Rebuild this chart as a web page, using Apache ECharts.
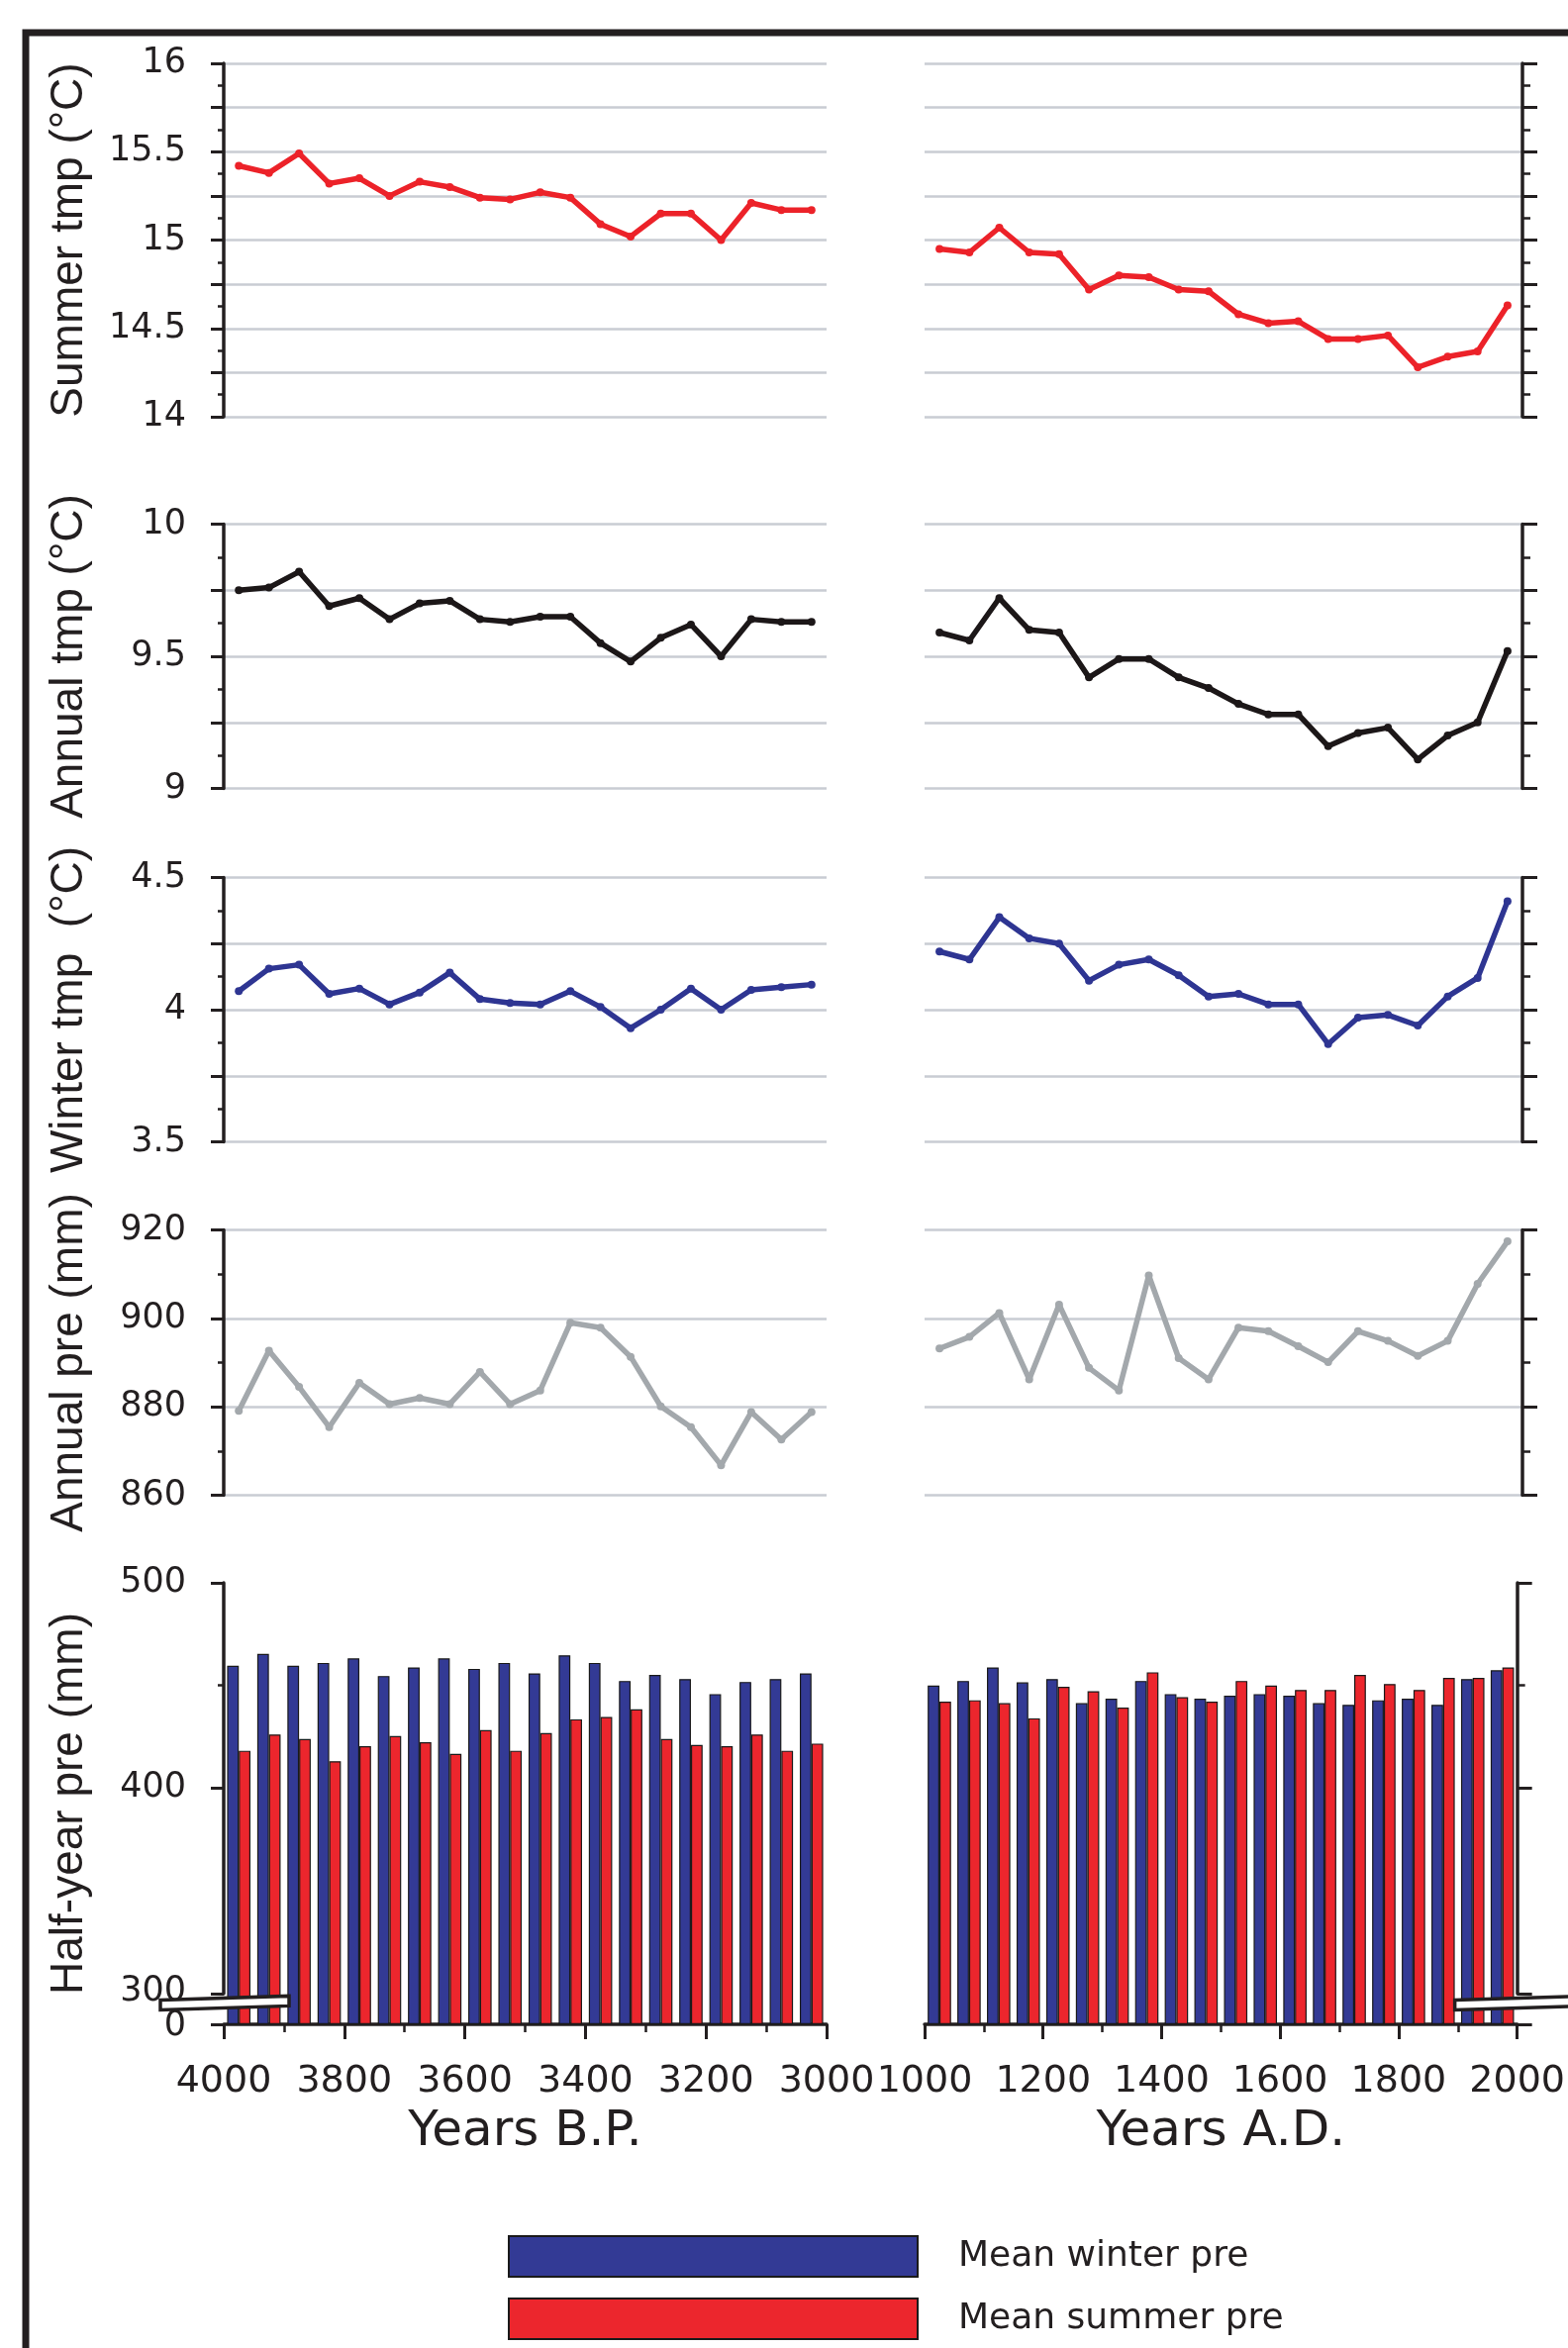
<!DOCTYPE html>
<html>
<head>
<meta charset="utf-8">
<script src="https://cdn.jsdelivr.net/npm/echarts@6/dist/echarts.min.js"></script>
<style>
html,body{margin:0;padding:0;background:#fff;}
#chart{width:1584px;height:2372px;}
</style>
</head>
<body>
<div id="chart"></div>
<script>
// ---------------- DATA ----------------
const yearsBP = [3975,3925,3875,3825,3775,3725,3675,3625,3575,3525,3475,3425,3375,3325,3275,3225,3175,3125,3075,3025];
const yearsAD = [1025,1075,1125,1175,1225,1275,1325,1375,1425,1475,1525,1575,1625,1675,1725,1775,1825,1875,1925,1975];

const summerTmpBP = [15.42,15.38,15.49,15.32,15.35,15.25,15.33,15.30,15.24,15.23,15.27,15.24,15.09,15.02,15.15,15.15,15.00,15.21,15.17,15.17];
const summerTmpAD = [14.95,14.93,15.07,14.93,14.92,14.72,14.80,14.79,14.72,14.71,14.58,14.53,14.54,14.44,14.44,14.46,14.28,14.34,14.37,14.63];

const annualTmpBP = [9.75,9.76,9.82,9.69,9.72,9.64,9.70,9.71,9.64,9.63,9.65,9.65,9.55,9.48,9.57,9.62,9.50,9.64,9.63,9.63];
const annualTmpAD = [9.59,9.56,9.72,9.60,9.59,9.42,9.49,9.49,9.42,9.38,9.32,9.28,9.28,9.16,9.21,9.23,9.11,9.20,9.25,9.52];

const winterTmpBP = [4.07,4.155,4.17,4.06,4.08,4.02,4.065,4.14,4.04,4.025,4.02,4.07,4.01,3.93,4.00,4.08,4.00,4.075,4.085,4.095];
const winterTmpAD = [4.22,4.19,4.35,4.27,4.25,4.11,4.17,4.19,4.13,4.05,4.06,4.02,4.02,3.87,3.97,3.98,3.94,4.05,4.12,4.41];

const annualPreBP = [879.1,892.7,884.5,875.4,885.4,880.6,882.0,880.6,887.9,880.6,883.7,899.0,897.9,891.3,880.1,875.4,866.8,878.8,872.6,878.8];
const annualPreAD = [893.2,895.8,901.2,886.2,903.1,888.8,883.7,909.7,891.0,886.2,897.9,897.1,893.7,890.1,897.1,894.9,891.5,894.9,907.8,917.4];

const winterPreBP = [459.6,465.4,459.6,461.0,463.2,454.6,458.8,463.2,458.1,461.0,455.9,464.7,461.0,452.2,455.1,453.1,445.8,451.7,453.1,455.9];
const summerPreBP = [418.2,426.1,423.9,413.1,420.4,425.4,422.4,416.7,428.3,418.2,426.8,433.5,434.7,438.4,423.9,421.0,420.4,426.1,418.2,421.7];
const winterPreAD = [450.0,452.2,458.8,451.5,453.1,441.4,443.6,452.2,445.8,443.6,445.0,445.8,445.0,441.4,440.6,442.8,443.6,440.6,453.1,457.4];
const summerPreAD = [442.1,442.8,441.4,434.0,449.4,447.2,439.2,456.4,444.3,442.1,452.2,450.0,447.8,447.8,455.1,450.7,447.8,453.7,453.7,458.8];

// tick labels
const summerTicks = [14, 14.5, 15, 15.5, 16];
const annualTicks = [9, 9.5, 10];
const winterTicks = [3.5, 4, 4.5];
const preTicks = [860, 880, 900, 920];
const halfTicks = [0, 300, 400, 500];
const bpTicks = [4000, 3800, 3600, 3400, 3200, 3000];
const adTicks = [1000, 1200, 1400, 1600, 1800, 2000];

const axisNames = ['Summer tmp (°C)', 'Annual tmp (°C)', 'Winter tmp  (°C)', 'Annual pre (mm)', 'Half-year pre (mm)'];
const legendNames = ['Mean winter pre', 'Mean summer pre'];

// ---------------- STYLE / LAYOUT ----------------
const FONT = 'DejaVu Sans';
const NAMEFONT = 'Liberation Sans';
const INK = '#231f20';
const GRIDC = '#c9ccd3';
const colLeft = [226, 934];
const colWidth = [609, 604];
const rowTop = [64, 529.5, 886.5, 1242.5, 1599];
const rowHeight = [357, 267, 267, 268, 446];

const yCfg = [
  {min: 14, max: 16, interval: 0.25, labels: summerTicks},
  {min: 9, max: 10, interval: 0.25, labels: annualTicks},
  {min: 3.5, max: 4.5, interval: 0.25, labels: winterTicks},
  {min: 860, max: 920, interval: 20, labels: preTicks},
  {min: 0, max: 500, interval: 100, labels: halfTicks}
];

const lineSets = [
  [summerTmpBP, summerTmpAD, '#ec2229'],
  [annualTmpBP, annualTmpAD, '#1c1718'],
  [winterTmpBP, winterTmpAD, '#2e3592'],
  [annualPreBP, annualPreAD, '#a3a8ac']
];

const grids = [], xAxes = [], yAxes = [], series = [];
for (let r = 0; r < 5; r++) {
  for (let c = 0; c < 2; c++) {
    const idx = r * 2 + c;
    grids.push({left: colLeft[c], top: rowTop[r], width: colWidth[c], height: rowHeight[r], containLabel: false});
    const isBottom = r === 4;
    xAxes.push({
      type: 'value', gridIndex: idx,
      min: c === 0 ? 3000 : 1000, max: c === 0 ? 4000 : 2000,
      inverse: c === 0, interval: 200,
      show: isBottom,
      name: c === 0 ? 'Years B.P.' : 'Years A.D.',
      nameLocation: 'middle', nameGap: 84,
      nameTextStyle: {fontFamily: FONT, fontSize: 50, color: INK},
      axisLine: {show: true, lineStyle: {color: INK, width: 3.5}},
      axisTick: {show: true, length: 15, lineStyle: {color: INK, width: 3}},
      minorTick: {show: true, splitNumber: 2, length: 8, lineStyle: {color: INK, width: 2.5}},
      axisLabel: {show: true, fontFamily: FONT, fontSize: 38, color: INK, margin: 39,
                  customValues: c === 0 ? bpTicks : adTicks,
                  hideOverlap: false,
                  formatter: v => String(v)},
      splitLine: {show: false}
    });
    const cfg = yCfg[r];
    const y = {
      type: 'value', gridIndex: idx,
      min: cfg.min, max: cfg.max, interval: cfg.interval,
      position: c === 0 ? 'left' : 'right',
      axisLine: {show: true, lineStyle: {color: INK, width: 3.5}},
      axisTick: {show: true, length: c === 0 ? 13 : 15, lineStyle: {color: INK, width: 3}},
      minorTick: {show: true, splitNumber: 2, length: c === 0 ? 6 : 8, lineStyle: {color: INK, width: 2.5}},
      axisLabel: {show: c === 0, fontFamily: FONT, fontSize: 35, lineHeight: 26, color: INK, margin: 38,
                  hideOverlap: false, showMinLabel: true, showMaxLabel: true,
                  formatter: v => String(v)},
      splitLine: {show: !isBottom, lineStyle: {color: GRIDC, width: 2.5}},
      minorSplitLine: {show: false}
    };
    if (!isBottom) {
      y.axisLabel.customValues = cfg.labels;
    }
    if (c === 0) {
      y.name = axisNames[r];
      y.nameLocation = 'middle';
      y.nameRotate = 90;
      y.nameGap = 133;
      y.nameTextStyle = {fontFamily: NAMEFONT, fontSize: 46, color: INK};
    }
    if (isBottom) {
      y.breaks = [{start: 0, end: 300, gap: '7%'}];
      y.breakArea = {show: false, expandOnClick: false};
      y.breakLabelLayout = {moveOverlap: 'auto'};
    }
    yAxes.push(y);

    if (r < 4) {
      const set = lineSets[r];
      const xs = c === 0 ? yearsBP : yearsAD;
      const vs = set[c];
      series.push({
        type: 'line', xAxisIndex: idx, yAxisIndex: idx,
        data: xs.map((x, i) => [x, vs[i]]),
        symbol: 'circle', symbolSize: 8, showSymbol: true,
        lineStyle: {color: set[2], width: 5.5},
        itemStyle: {color: set[2]},
        silent: true, animation: false
      });
    } else {
      const xs = c === 0 ? yearsBP : yearsAD;
      const w = c === 0 ? winterPreBP : winterPreAD;
      const s = c === 0 ? summerPreBP : summerPreAD;
      series.push({
        type: 'bar', name: legendNames[0], xAxisIndex: idx, yAxisIndex: idx,
        data: xs.map((x, i) => [x, w[i]]),
        barWidth: 11.8, barGap: '0%',
        itemStyle: {color: '#333a95', borderColor: '#1a1a1a', borderWidth: 1.2},
        silent: true, animation: false
      });
      series.push({
        type: 'bar', name: legendNames[1], xAxisIndex: idx, yAxisIndex: idx,
        data: xs.map((x, i) => [x, s[i]]),
        barWidth: 11.8, barGap: '0%',
        itemStyle: {color: '#ec262d', borderColor: '#1a1a1a', borderWidth: 1.2},
        silent: true, animation: false
      });
    }
  }
}

const frame = {
  type: 'rect', silent: true, z: -10,
  shape: {x: 26, y: 33, width: 1700, height: 2500},
  style: {fill: 'none', stroke: INK, lineWidth: 7}
};

const chart = echarts.init(document.getElementById('chart'), null, {renderer: 'canvas'});
chart.setOption({
  backgroundColor: '#ffffff',
  animation: false,
  textStyle: {fontFamily: FONT},
  grid: grids,
  xAxis: xAxes,
  yAxis: yAxes,
  series: series,
  legend: {
    data: legendNames,
    orient: 'vertical',
    left: 508, top: 2253,
    itemWidth: 413, itemHeight: 41, itemGap: 20,
    icon: 'rect',
    selectedMode: false,
    textStyle: {fontFamily: FONT, fontSize: 36, color: INK, padding: [0, 0, 0, 36]}
  },
  graphic: [frame]
});

// axis-break symbols at the broken value axes
function breakMark(axisX, yMid, x1, x2) {
  return {
    type: 'polygon', silent: true, z: 100,
    shape: {points: [[axisX + x1, yMid - 3], [axisX + x2, yMid - 7], [axisX + x2, yMid + 3], [axisX + x1, yMid + 7]]},
    style: {fill: '#ffffff', stroke: INK, lineWidth: 3.5}
  };
}
const yA = chart.convertToPixel({yAxisIndex: 8}, 0);
const yB = chart.convertToPixel({yAxisIndex: 8}, 300);
const yMid = (yA + yB) / 2 - 6;
const axL = chart.convertToPixel({xAxisIndex: 8}, 4000);
const axR = chart.convertToPixel({xAxisIndex: 9}, 2000);
chart.setOption({
  graphic: [frame, breakMark(axL, yMid, -64, 66), breakMark(axR, yMid, -63, 70)]
});
</script>
</body>
</html>
